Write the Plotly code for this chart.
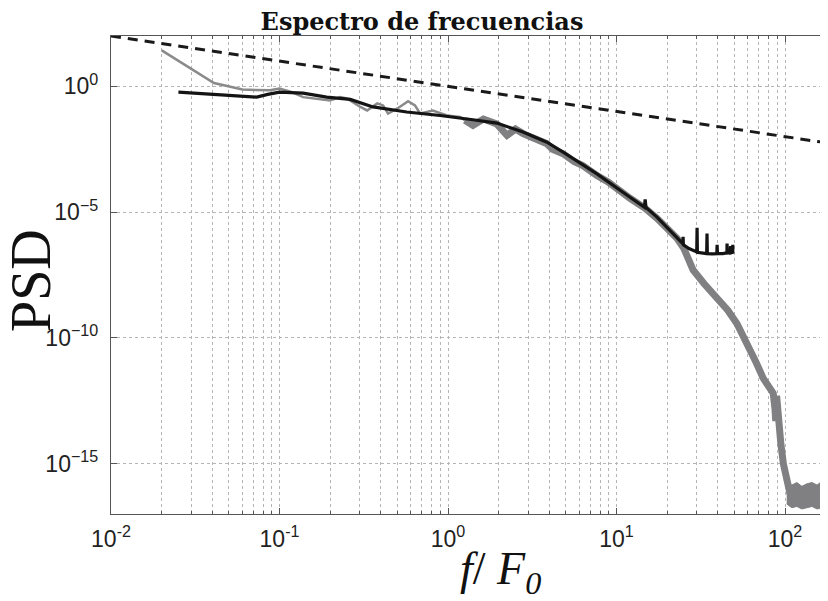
import plotly.graph_objects as go
import numpy as np

# ---- data (exponents of 10) ----
gray_low_logf = [-1.699, -1.389, -1.22, -1.056, -1.0, -0.93, -0.86, -0.78, -0.70, -0.64, -0.6,
                 -0.52, -0.48, -0.42, -0.385, -0.356, -0.30, -0.237, -0.196, -0.166, -0.09,
                 -0.006, 0.071, 0.10]
gray_low_logpsd = [1.43, 0.13, -0.13, -0.16, -0.09, -0.22, -0.43, -0.50, -0.56, -0.43, -0.48,
                   -0.82, -0.96, -0.68, -0.76, -1.08, -0.88, -0.59, -0.76, -1.08, -0.96,
                   -1.16, -1.22, -1.35]

gray_high_logf = [0.10, 0.148, 0.21, 0.29, 0.35, 0.40, 0.445, 0.50, 0.587, 0.62, 0.683, 0.75,
                  0.80, 0.884, 0.95, 1.08, 1.17, 1.24, 1.30, 1.36, 1.40, 1.454, 1.52, 1.597,
                  1.66, 1.715, 1.755, 1.792, 1.83, 1.87, 1.90, 1.93, 1.94, 1.945, 1.95, 1.96,
                  1.975, 1.99, 2.01, 2.03]
gray_high_logpsd = [-1.35, -1.55, -1.30, -1.50, -1.95, -1.70, -1.88, -2.05, -2.28, -2.5, -2.68,
                    -3.0, -3.15, -3.55, -3.8, -4.45, -4.85, -5.25, -5.62, -6.05, -6.45, -7.3,
                    -7.85, -8.41, -8.9, -9.44, -9.95, -10.5, -11.0, -11.6, -11.95, -12.2, -12.8,
                    -13.3, -12.3, -13.4, -14.2, -15.0, -15.8, -16.2]

floor_logf = [2.01, 2.04, 2.07, 2.10, 2.13, 2.16, 2.19, 2.22, 2.26]
floor_upper_logpsd = [-15.8, -15.85, -15.75, -15.9, -15.8, -15.75, -15.85, -15.7, -15.75]
floor_lower_logpsd = [-16.6, -16.75, -16.7, -16.8, -16.75, -16.7, -16.8, -16.75, -16.7]

black_logf = [-1.60, -1.40, -1.20, -1.135, -1.07, -1.0, -0.86, -0.72, -0.58, -0.445, -0.245,
              -0.047, 0.148, 0.29, 0.445, 0.587, 0.683, 0.884, 1.08, 1.165, 1.17, 1.175,
              1.24, 1.30, 1.36, 1.393, 1.395, 1.397, 1.43,
              1.476, 1.478, 1.480, 1.535, 1.537, 1.539, 1.57, 1.595, 1.597, 1.599, 1.63, 1.655,
              1.656, 1.658, 1.675, 1.677, 1.679, 1.69, 1.69]
black_logpsd = [-0.23, -0.31, -0.40, -0.43, -0.32, -0.23, -0.27, -0.43, -0.52, -0.82, -1.02,
                -1.16, -1.33, -1.46, -1.82, -2.22, -2.62, -3.48, -4.41, -4.8, -4.5, -4.82,
                -5.2, -5.6, -6.0, -6.25, -5.98, -6.3, -6.45,
                -6.58, -5.62, -6.6, -6.65, -5.85, -6.65, -6.66, -6.65, -6.3, -6.65, -6.65, -6.62,
                -6.25, -6.63, -6.62, -6.35, -6.62, -6.6, -6.3]

dashed_f = [0.01, 182.0]
dashed_psd = [100.0, 1.0 / 182.0]

xtick_vals = [0.01, 0.1, 1, 10, 100]
xtick_text = ["10<sup>-2</sup>", "10<sup>-1</sup>", "10<sup>0</sup>", "10<sup>1</sup>", "10<sup>2</sup>"]
ytick_vals = [1e-15, 1e-10, 1e-5, 1]
ytick_text = ["10<sup>\u221215</sup>", "10<sup>\u221210</sup>", "10<sup>\u22125</sup>", "10<sup>0</sup>"]

p = lambda a: (10.0 ** np.array(a)).tolist()

GRAY = "#808082"
fig = go.Figure()

fig.add_trace(go.Scatter(x=p(floor_logf + floor_logf[::-1]),
                         y=p(floor_upper_logpsd + floor_lower_logpsd[::-1]),
                         fill="toself", fillcolor=GRAY, line=dict(color=GRAY, width=1),
                         mode="lines", hoverinfo="skip", showlegend=False))
fig.add_trace(go.Scatter(x=p(gray_high_logf), y=p(gray_high_logpsd), mode="lines",
                         line=dict(color=GRAY, width=7), showlegend=False))
fig.add_trace(go.Scatter(x=p(gray_low_logf), y=p(gray_low_logpsd), mode="lines",
                         line=dict(color="#8a8a8c", width=2.5), showlegend=False))
fig.add_trace(go.Scatter(x=p(black_logf), y=p(black_logpsd), mode="lines",
                         line=dict(color="#141414", width=3.2), showlegend=False))
fig.add_trace(go.Scatter(x=dashed_f, y=dashed_psd, mode="lines",
                         line=dict(color="#1a1a1a", width=3, dash="10px,7px"), showlegend=False))

tickfont = dict(family="Liberation Sans, Arial", size=23, color="#222")
fig.update_layout(
    width=820, height=593,
    margin=dict(l=103, r=0, t=28, b=87),
    paper_bgcolor="white", plot_bgcolor="white",
    title=dict(text="<b>Espectro de frecuencias</b>", x=0.5 + 4 / 820, xref="container",
               xanchor="center", y=1 - 14 / 593, yref="container", yanchor="middle",
               font=dict(family="DejaVu Serif", size=24, color="#111")),
    xaxis=dict(type="log", range=[-2, 2.255], tickvals=xtick_vals, ticktext=xtick_text,
               showgrid=True, gridcolor="#b5b5b5", griddash="dot", gridwidth=1,
               ticks="inside", ticklen=6, tickcolor="#555", showline=True, linecolor="#555",
               linewidth=1.3, mirror="allticks", tickfont=tickfont, zeroline=False,
               ticklabelstandoff=4,
               minor=dict(dtick="D1", showgrid=True, gridcolor="#b5b5b5", griddash="dot",
                          ticks="inside", ticklen=3, tickcolor="#555")),
    yaxis=dict(type="log", range=[-17, 2], tickvals=ytick_vals, ticktext=ytick_text,
               showgrid=True, gridcolor="#b5b5b5", griddash="dot", gridwidth=1,
               ticks="inside", ticklen=6, tickcolor="#555", showline=True, linecolor="#555",
               linewidth=1.3, mirror=False, tickfont=tickfont, zeroline=False,
               ticklabelstandoff=7),
    annotations=[
        dict(text="PSD", xref="paper", yref="paper", x=(31 - 111) / 717, y=(514 - 281) / 478,
             xanchor="center", yanchor="middle", textangle=-90, showarrow=False,
             font=dict(family="Liberation Serif", size=56, color="#111")),
        dict(text="<i>f</i>/ <i>F</i><sub><i>0</i></sub>", xref="paper", yref="paper",
             x=(500 - 111) / 717, y=(514 - 572) / 478, xanchor="center", yanchor="middle",
             showarrow=False, font=dict(family="Liberation Serif", size=46, color="#111")),
    ],
)

fig.write_html("out.html")
